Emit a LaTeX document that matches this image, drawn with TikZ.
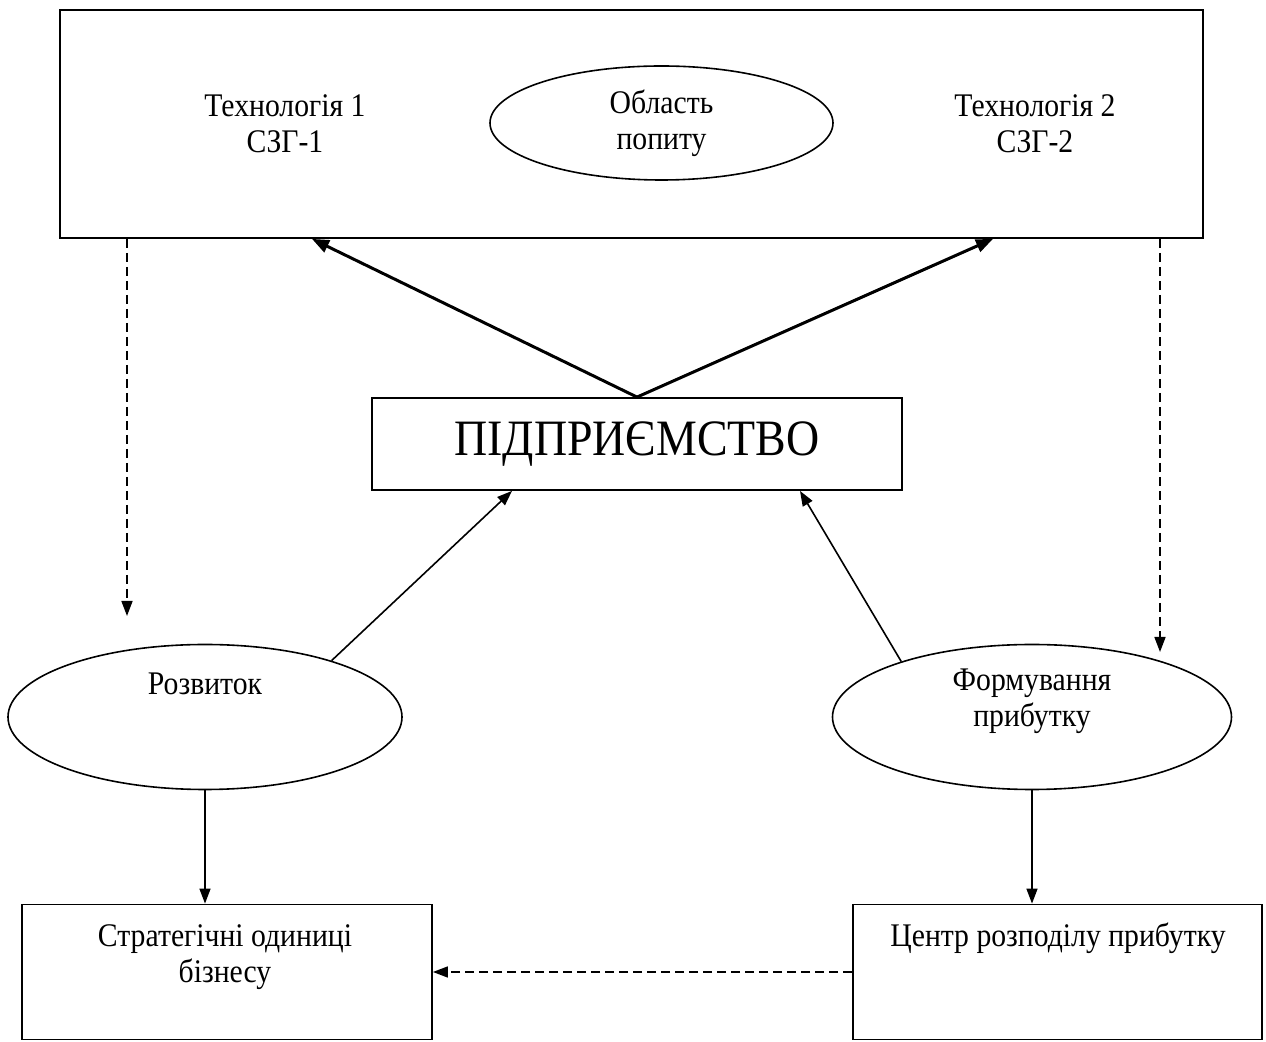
\documentclass[tikz,border=0pt]{standalone}
\usepackage{fontspec}
\setmainfont{Liberation Serif}[FakeStretch=0.9]
\usetikzlibrary{arrows.meta,shapes.geometric}

\begin{document}
\begin{tikzpicture}[x=0.5pt,y=-0.5pt,
  box/.style={draw, line width=0.9pt, rectangle, inner sep=0pt},
  oval/.style={draw, line width=0.8pt, ellipse, inner sep=0pt},
  lbl/.style={font=\fontsize{16.5}{18}\selectfont, align=center, inner sep=0pt},
  boldarrow/.style={line width=1.5pt, -{Triangle[length=8.5pt,width=6.5pt]}},
  thinarrow/.style={line width=0.8pt, -{Triangle[length=7.5pt,width=5.5pt]}},
  dasharrow/.style={line width=0.8pt, dash pattern=on 4.5pt off 2.5pt, -{Triangle[length=7.5pt,width=5.5pt]}}]
  \useasboundingbox (0,0) rectangle (1266,1042);

  % upper block with the two technologies and the demand area
  \node[box, minimum width=571.5pt, minimum height=114pt] (top) at (631.5,124) {};
  \node[lbl] (tech1) at (285,124) {Технологія 1\\СЗГ-1};
  \node[lbl] (tech2) at (1035,124) {Технологія 2\\СЗГ-2};
  \node[oval, lbl, minimum width=171.5pt, minimum height=57pt] (demand) at (661.5,123) {Область\\попиту};

  % the enterprise
  \node[box, minimum width=265pt, minimum height=46pt,
        font=\fontsize{25.5}{28}\selectfont] (firm) at (637,444) {ПІДПРИЄМСТВО};

  % development and profit generation
  \node[oval, minimum width=197pt, minimum height=72.5pt] (dev) at (205,717) {};
  \node[lbl] (devtxt) at (205,684) {Розвиток};
  \node[oval, minimum width=199.5pt, minimum height=72.5pt] (prof) at (1032,717) {};
  \node[lbl] (proftxt) at (1032,701) {Формування\\прибутку};

  % lower blocks
  \node[box, minimum width=205pt, minimum height=67.5pt] (sbu) at (227,972) {};
  \node[lbl] (sbutxt) at (225,957) {Стратегічні одиниці\\бізнесу};
  \node[box, minimum width=204.5pt, minimum height=67.5pt] (centr) at (1057.5,972) {};
  \node[lbl] (centrtxt) at (1058,938) {Центр розподілу прибутку};

  % helper coordinates for connector ends
  \coordinate (u1) at (312,0);
  \coordinate (u2) at (993,0);
  \coordinate (u3) at (512,0);
  \coordinate (u4) at (800,0);
  \coordinate (d1) at (127,0);
  \coordinate (d1end) at (127,616);
  \coordinate (d2) at (1160,0);
  \coordinate (d2end) at (1160,652);

  % connectors
  \draw[boldarrow] (firm.north) -- (top.south -| u1);
  \draw[boldarrow] (firm.north) -- (top.south -| u2);
  \draw[thinarrow] (dev.24) -- (firm.south -| u3);
  \draw[thinarrow] (prof.157) -- (firm.south -| u4);
  \draw[dasharrow] (top.south -| d1) -- (d1end);
  \draw[dasharrow] (top.south -| d2) -- (d2end);
  \draw[thinarrow] (dev.south) -- (dev.south |- sbu.north);
  \draw[thinarrow] (prof.south) -- (prof.south |- centr.north);
  \draw[dasharrow] (centr.west) -- (sbu.east);
\end{tikzpicture}
\end{document}
